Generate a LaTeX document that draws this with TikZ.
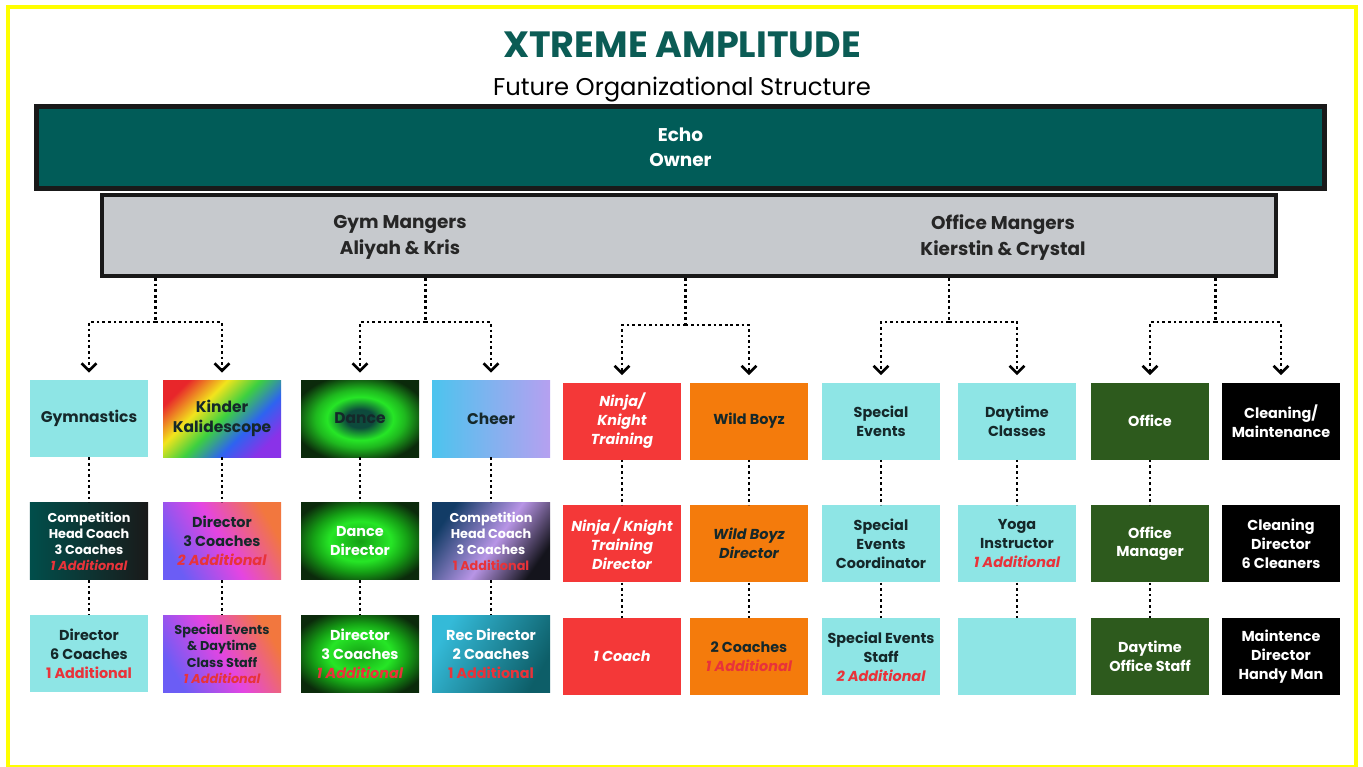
\documentclass[tikz,border=0pt]{standalone}
\usepackage{fontspec}
\setmainfont{Poppins}
\usepackage{xcolor}
\usetikzlibrary{arrows,positioning}
\usetikzlibrary{arrows.meta}
\newcommand{\addl}[1]{\textcolor{colorAdd}{\itshape #1}}
\newcommand{\addr}[1]{\textcolor{colorAdd}{#1}}
\definecolor{colorTitle}{HTML}{0B5C55}
\definecolor{colorOwner}{HTML}{015C58}
\definecolor{colorMgr}{HTML}{C6C9CD}
\definecolor{colorCyan}{HTML}{8EE5E5}
\definecolor{colorNinja}{HTML}{F43838}
\definecolor{colorWild}{HTML}{F47B0C}
\definecolor{colorOffice}{HTML}{2D5A1D}
\definecolor{colorAdd}{HTML}{E8333A}
\definecolor{colorInk}{HTML}{15282A}
\definecolor{colorFrame}{HTML}{FFFF00}
\definecolor{rbRed}{HTML}{E8262A}
\definecolor{rbYellow}{HTML}{F2E41C}
\definecolor{rbGreen}{HTML}{3DD040}
\definecolor{rbBlue}{HTML}{2E63F0}
\definecolor{rbPurple}{HTML}{8A32E8}
\definecolor{kdBlue}{HTML}{6B5DF5}
\definecolor{kdPink}{HTML}{E445E2}
\definecolor{kdOrange}{HTML}{F2773E}
\definecolor{dnCore}{HTML}{0D4A3C}
\definecolor{dnGreen}{HTML}{26E626}
\definecolor{dnMid}{HTML}{15A015}
\definecolor{dnEdge}{HTML}{0B2A0B}
\definecolor{ccNavy}{HTML}{123C66}
\definecolor{ccLav}{HTML}{B895E6}
\definecolor{ccDark}{HTML}{14141C}
\definecolor{chCyan}{HTML}{4CC4EE}
\definecolor{chLav}{HTML}{B6A0F0}
\definecolor{recLight}{HTML}{34BAD8}
\definecolor{recDark}{HTML}{0D5E68}
\pgfdeclarehorizontalshading{rainbow}{100bp}{color(0bp)=(rbRed); color(24bp)=(rbRed); color(38bp)=(rbYellow); color(50bp)=(rbGreen); color(63bp)=(rbBlue); color(76bp)=(rbPurple); color(100bp)=(rbPurple)}
\pgfdeclarehorizontalshading{candy}{100bp}{color(0bp)=(kdBlue); color(25bp)=(kdBlue); color(50bp)=(kdPink); color(75bp)=(kdOrange); color(100bp)=(kdOrange)}
\pgfdeclarehorizontalshading{dusk}{100bp}{color(0bp)=(ccNavy); color(25bp)=(ccNavy); color(52bp)=(ccLav); color(75bp)=(ccDark); color(100bp)=(ccDark)}
\pgfdeclareradialshading{glow}{\pgfpoint{0bp}{0bp}}{color(0bp)=(dnCore); color(6bp)=(dnCore); color(14bp)=(dnGreen); color(19bp)=(dnGreen!80!black); color(29bp)=(dnEdge); color(50bp)=(dnEdge)}
\pgfdeclareradialshading{glowB}{\pgfpoint{0bp}{0bp}}{color(0bp)=(dnMid); color(13bp)=(dnGreen); color(20bp)=(dnMid); color(30bp)=(dnEdge); color(50bp)=(dnEdge)}

\begin{document}
\begin{tikzpicture}[x=0.2mm,y=-0.2mm,node distance=9mm,>={Straight Barb[length=1.5mm,width=3mm]},every node/.append style={align=center},unit/.style={minimum width=23.6mm, minimum height=15.4mm, inner sep=1pt, text=colorInk, font=\bfseries\fontsize{8.2}{10.8}\selectfont},big/.style={unit, font=\bfseries\fontsize{8.8}{11.5}\selectfont},small/.style={unit, font=\bfseries\fontsize{7.3}{9.2}\selectfont},it/.style={execute at begin node=\itshape},link/.style={line width=1.5pt, dash pattern=on 1.5pt off 1.7pt},ownerbox/.style={draw=black!90, line width=1mm, fill=colorOwner, minimum width=257.6mm, minimum height=16.4mm, text=white, font=\bfseries\fontsize{10.5}{14}\selectfont},mgrbox/.style={draw=black!90, line width=0.8mm, fill=colorMgr, minimum width=234.8mm, minimum height=16.2mm},mgrtext/.style={text=black!85, font=\bfseries\fontsize{10.5}{15}\selectfont}]
    \useasboundingbox (0,0) rectangle (1363,766);
    \fill[white] (0,0) rectangle (1363,766);
    \draw[colorFrame, line width=0.8mm] (8,7) rectangle (1355.5,767);
    \node [text=colorTitle, font=\bfseries\fontsize{20.8}{24}\selectfont] (title) at (682,45) {XTREME AMPLITUDE};
    \node [font=\fontsize{13.8}{16}\selectfont] (subtitle) at (682,90) {Future Organizational Structure};
    \node [ownerbox] (owner) at (680.5,147.5) {Echo\\Owner};
    \node [mgrbox] (mgr) at (689,235.5) {};
    \node [mgrtext] (gymmgr) at (400,237.5) {Gym Mangers\\Aliyah \& Kris};
    \node [mgrtext] (offmgr) at (1003,237.5) {Office Mangers\\Kierstin \& Crystal};

    \node [big, fill=colorCyan] (gym) at (89,418.5) {Gymnastics};
    \node [big, shade, shading=rainbow, shading angle=-45] (kinder) at (222,418.5) {Kinder\\Kalidescope};
    \node [big, shade, shading=glow] (dance) at (360,418.5) {Dance};
    \node [big, left color=chCyan, right color=chLav] (cheer) at (491,418.5) {Cheer};
    \node [unit, it, fill=colorNinja, text=white] (ninja) at (622,421) {Ninja/\\Knight\\Training};
    \node [unit, fill=colorWild] (wild) at (749,421) {Wild Boyz};
    \node [unit, fill=colorCyan] (special) at (881,421) {Special\\Events};
    \node [unit, fill=colorCyan] (daytime) at (1017,421) {Daytime\\Classes};
    \node [unit, fill=colorOffice, text=white] (office) at (1150,421) {Office};
    \node [unit, fill=black, text=white] (clean) at (1281,421) {Cleaning/\\Maintenance};

    \node [small, below=of gym, left color=colorOwner!85!black, right color=black!90, text=white] (gymA) {Competition\\Head Coach\\3 Coaches\\\addl{1 Additional}};
    \node [unit, below=of kinder, shade, shading=candy, shading angle=30] (kinderA) {Director\\3 Coaches\\\addl{2 Additional}};
    \node [unit, below=of dance, shade, shading=glowB, text=white] (danceA) {Dance\\Director};
    \node [small, below=of cheer, shade, shading=dusk, shading angle=-35, text=white] (cheerA) {Competition\\Head Coach\\3 Coaches\\\addr{1 Additional}};
    \node [unit, it, below=of ninja, fill=colorNinja, text=white] (ninjaA) {Ninja / Knight\\Training\\Director};
    \node [unit, it, below=of wild, fill=colorWild] (wildA) {Wild Boyz\\Director};
    \node [unit, below=of special, fill=colorCyan] (specialA) {Special\\Events\\Coordinator};
    \node [unit, below=of daytime, fill=colorCyan] (daytimeA) {Yoga\\Instructor\\\addl{1 Additional}};
    \node [unit, below=of office, fill=colorOffice, text=white] (officeA) {Office\\Manager};
    \node [unit, below=of clean, fill=black, text=white] (cleanA) {Cleaning\\Director\\6 Cleaners};

    \node [unit, below=7mm of gymA, fill=colorCyan] (gymB) {Director\\6 Coaches\\\addr{1 Additional}};
    \node [small, below=7mm of kinderA, shade, shading=candy, shading angle=30] (kinderB) {Special Events\\\& Daytime\\Class Staff\\\addl{1 Additional}};
    \node [unit, below=7mm of danceA, shade, shading=glowB, text=white] (danceB) {Director\\3 Coaches\\\addl{1 Additional}};
    \node [unit, below=7mm of cheerA, left color=recLight, right color=recDark, shading angle=60, text=white] (cheerB) {Rec Director\\2 Coaches\\\addr{1 Additional}};
    \node [unit, it, below=7mm of ninjaA, fill=colorNinja, text=white] (ninjaB) {1 Coach};
    \node [unit, below=7mm of wildA, fill=colorWild] (wildB) {2 Coaches\\\addl{1 Additional}};
    \node [unit, below=7mm of specialA, fill=colorCyan] (specialB) {Special Events\\Staff\\\addl{2 Additional}};
    \node [unit, below=7mm of daytimeA, fill=colorCyan] (daytimeB) {};
    \node [unit, below=7mm of officeA, fill=colorOffice, text=white] (officeB) {Daytime\\Office Staff};
    \node [unit, below=7mm of cleanA, fill=black, text=white] (cleanB) {Maintence\\Director\\Handy Man};

    \coordinate (j1) at (155.5,322);
    \coordinate (j2) at (425.5,322);
    \coordinate (j3) at (685.5,325);
    \coordinate (j4) at (949,322);
    \coordinate (j5) at (1215.5,322);
    \draw[link] (mgr.south -| j1) -- (j1);
    \draw[link] (mgr.south -| j2) -- (j2);
    \draw[link] (mgr.south -| j3) -- (j3);
    \draw[link] (mgr.south -| j4) -- (j4);
    \draw[link] (mgr.south -| j5) -- (j5);
    \draw[link,->,shorten >=1.4mm] (j1) -| (gym);
    \draw[link,->,shorten >=1.4mm] (j1) -| (kinder);
    \draw[link,->,shorten >=1.4mm] (j2) -| (dance);
    \draw[link,->,shorten >=1.4mm] (j2) -| (cheer);
    \draw[link,->,shorten >=1.4mm] (j3) -| (ninja);
    \draw[link,->,shorten >=1.4mm] (j3) -| (wild);
    \draw[link,->,shorten >=1.4mm] (j4) -| (special);
    \draw[link,->,shorten >=1.4mm] (j4) -| (daytime);
    \draw[link,->,shorten >=1.4mm] (j5) -| (office);
    \draw[link,->,shorten >=1.4mm] (j5) -| (clean);

    \path[link] (gym) edge (gymA) (gymA) edge (gymB);
    \path[link] (kinder) edge (kinderA) (kinderA) edge (kinderB);
    \path[link] (dance) edge (danceA) (danceA) edge (danceB);
    \path[link] (cheer) edge (cheerA) (cheerA) edge (cheerB);
    \path[link] (ninja) edge (ninjaA) (ninjaA) edge (ninjaB);
    \path[link] (wild) edge (wildA) (wildA) edge (wildB);
    \path[link] (special) edge (specialA) (specialA) edge (specialB);
    \path[link] (daytime) edge (daytimeA) (daytimeA) edge (daytimeB);
    \path[link] (office) edge (officeA) (officeA) edge (officeB);
\end{tikzpicture}
\end{document}
